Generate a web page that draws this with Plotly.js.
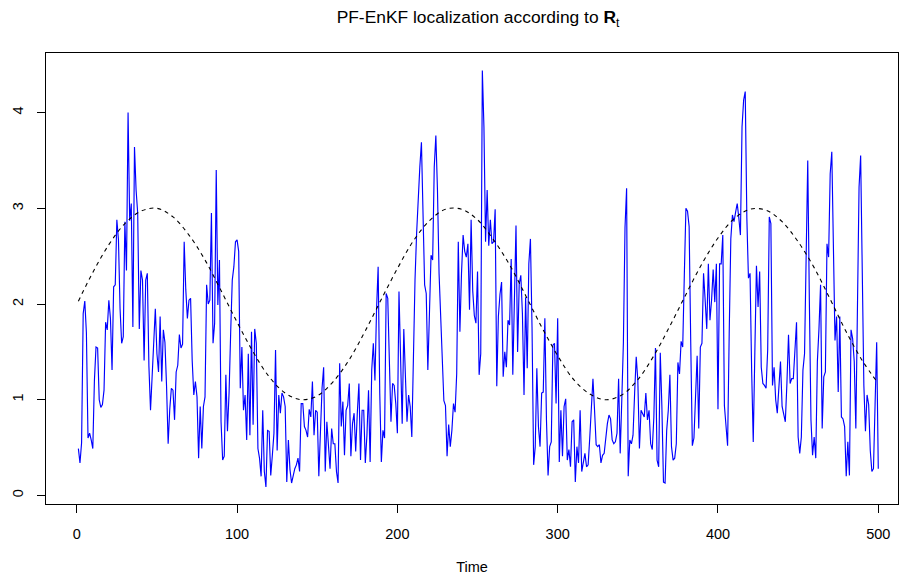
<!DOCTYPE html>
<html>
<head>
<meta charset="utf-8">
<script src="https://cdn.plot.ly/plotly-3.0.1.min.js"></script>
<style>
  html, body { margin: 0; padding: 0; background: #fff; overflow: hidden; }
  #chart { width: 899px; height: 576px; }
</style>
</head>
<body>
<div id="chart"></div>
<script>
// Blue series: PF-EnKF localization values, time steps 1..500
const estimateValues = [
  0.49, 0.34, 0.55, 1.9, 2.03, 1.7, 0.6, 0.65, 0.58, 0.49,
  1.2, 1.55, 1.54, 1.0, 0.92, 0.95, 1.1, 1.81, 1.73, 2.04,
  1.85, 1.31, 2.18, 2.2, 2.88, 2.67, 1.95, 1.59, 1.66, 2.86,
  2.35, 4.0, 2.87, 3.05, 1.76, 3.64, 3.19, 2.95, 1.74, 2.35,
  2.25, 1.41, 2.25, 2.32, 1.35, 0.89, 1.24, 1.6, 1.95, 1.48,
  1.29, 1.87, 1.19, 1.73, 1.6, 1.14, 0.54, 0.9, 1.12, 1.1,
  0.79, 1.29, 1.36, 1.68, 1.54, 1.58, 2.65, 2.15, 1.85, 2.04,
  2.06, 1.41, 1.05, 1.19, 1.03, 0.39, 0.93, 0.49, 0.93, 1.03,
  2.2, 2.0, 2.04, 2.95, 1.59, 1.8, 3.4, 1.99, 2.46, 0.77,
  0.37, 0.41, 1.26, 0.67, 1.07, 1.7, 2.25, 2.39, 2.65, 2.67,
  2.55, 1.12, 1.55, 0.89, 1.05, 0.58, 1.48, 0.63, 1.71, 0.74,
  1.74, 1.59, 0.49, 0.39, 0.2, 0.89, 0.25, 0.09, 0.68, 0.67,
  0.21, 0.42, 0.65, 1.52, 0.47, 1.05, 0.86, 1.07, 1.03, 0.93,
  0.14, 0.58, 0.27, 0.13, 0.21, 0.28, 0.32, 0.39, 0.25, 0.96,
  0.96, 0.72, 0.68, 0.61, 0.9, 0.82, 1.19, 0.63, 0.89, 0.87,
  0.2, 0.67, 1.12, 1.34, 0.25, 0.77, 0.48, 0.28, 0.7, 0.54,
  0.54, 0.25, 0.13, 1.38, 0.72, 0.98, 0.42, 0.89, 0.94, 1.17,
  0.41, 0.75, 0.86, 0.46, 0.86, 1.17, 0.37, 0.89, 0.89, 0.34,
  0.63, 1.1, 0.35, 1.31, 1.59, 1.2, 1.94, 2.39, 1.07, 0.35,
  0.68, 0.6, 2.11, 2.06, 1.41, 0.77, 1.17, 1.15, 0.96, 0.65,
  2.13, 1.38, 0.75, 1.74, 1.29, 0.77, 1.05, 0.93, 0.61, 1.48,
  2.25, 2.74, 3.19, 3.43, 3.69, 2.98, 2.2, 2.11, 1.31, 1.9,
  2.51, 2.46, 3.43, 3.76, 3.19, 2.32, 1.83, 1.34, 0.99, 0.94,
  0.41, 0.74, 0.51, 0.68, 0.96, 0.87, 1.27, 2.65, 1.71, 2.32,
  2.72, 2.55, 2.49, 2.63, 1.94, 2.88, 2.14, 1.88, 1.8, 2.34,
  1.26, 1.48, 4.44, 3.85, 2.65, 3.19, 2.61, 2.88, 2.63, 2.65,
  2.99, 1.14, 1.87, 2.1, 2.23, 1.24, 1.5, 1.34, 1.83, 1.78,
  2.47, 1.26, 2.25, 2.82, 1.5, 2.21, 2.3, 1.9, 1.05, 2.07,
  1.33, 2.42, 2.68, 1.76, 0.32, 0.51, 1.33, 0.72, 0.51, 1.07,
  1.08, 1.85, 0.79, 0.21, 0.51, 0.56, 1.57, 1.59, 0.96, 1.85,
  0.35, 0.89, 0.41, 0.93, 1.01, 0.37, 0.48, 0.3, 0.77, 0.79,
  0.14, 0.51, 0.34, 0.89, 0.25, 0.37, 0.44, 0.3, 0.32, 0.6,
  0.86, 1.22, 0.89, 0.53, 0.51, 0.53, 0.34, 0.42, 0.44, 0.6,
  0.75, 0.84, 0.8, 0.58, 0.54, 0.56, 0.65, 1.22, 0.44, 1.0,
  1.6, 2.8, 3.21, 0.2, 0.58, 0.54, 0.63, 1.07, 1.45, 1.2,
  0.49, 0.89, 0.86, 0.82, 1.07, 0.79, 0.89, 0.54, 0.48, 0.82,
  1.54, 0.37, 0.3, 1.49, 0.93, 0.14, 0.13, 0.68, 0.89, 1.26,
  0.51, 0.37, 0.39, 0.54, 1.39, 1.27, 1.61, 1.55, 2.3, 3.0,
  2.97, 2.81, 1.6, 0.52, 0.6, 1.07, 1.46, 0.7, 1.55, 1.59,
  2.32, 2.04, 1.74, 2.42, 1.83, 2.04, 2.36, 2.02, 2.42, 0.9,
  2.42, 2.42, 2.72, 0.94, 0.72, 0.52, 1.69, 2.68, 2.93, 2.86,
  2.96, 3.05, 2.9, 2.72, 3.85, 4.13, 4.22, 2.9, 2.27, 2.32,
  1.3, 0.56, 1.5, 2.4, 1.97, 2.34, 1.34, 1.17, 1.15, 1.12,
  1.52, 2.91, 2.84, 1.15, 1.34, 1.0, 0.86, 1.15, 1.4, 0.93,
  0.86, 0.77, 1.17, 1.68, 1.17, 1.22, 1.22, 1.47, 1.81, 0.61,
  0.44, 0.61, 1.31, 1.48, 2.46, 3.5, 2.04, 0.79, 0.42, 0.61,
  0.39, 1.4, 1.74, 2.2, 0.7, 1.24, 1.29, 2.63, 2.49, 3.36,
  3.59, 2.7, 1.62, 1.87, 1.08, 1.87, 0.82, 0.8, 0.72, 0.2,
  0.56, 0.21, 1.73, 1.64, 1.4, 0.7, 2.11, 3.22, 3.55, 2.11,
  1.15, 0.67, 1.05, 0.95, 0.47, 0.25, 0.28, 0.95, 1.6, 0.28
];
const timeSteps = estimateValues.map((_, i) => i + 1);

// Dashed reference curve at these time points
const refTimes = [1, 10, 20, 30, 40, 50, 60, 70, 80, 90, 100, 110, 120, 130, 140, 150,
  160, 170, 180, 190, 200, 210, 220, 230, 240, 250, 260, 270, 280, 290, 300,
  310, 320, 330, 340, 350, 360, 370, 380, 390, 400, 410, 420, 430, 440, 450,
  460, 470, 480, 490, 500];
const refValues = [2.03, 2.33, 2.62, 2.84, 2.97, 3.0, 2.91, 2.72, 2.46, 2.14, 1.81, 1.5,
  1.24, 1.07, 1.0, 1.04, 1.19, 1.42, 1.72, 2.05, 2.37, 2.66, 2.87, 2.99, 2.99, 2.88,
  2.67, 2.41, 2.09, 1.76, 1.46, 1.21, 1.06, 1.0, 1.05, 1.21, 1.46, 1.77, 2.1, 2.42,
  2.69, 2.89, 2.99, 2.98, 2.86, 2.65, 2.38, 2.05, 1.71, 1.41, 1.17];

const xTicks = [0, 100, 200, 300, 400, 500];
const yTicks = [0, 1, 2, 3, 4];

const FONT = 'Liberation Sans, Arial, Helvetica, sans-serif';

const traces = [
  {
    x: timeSteps, y: estimateValues, type: 'scatter', mode: 'lines',
    line: { color: '#0000ff', width: 1.15 }, hoverinfo: 'skip'
  },
  {
    x: refTimes, y: refValues, type: 'scatter', mode: 'lines',
    line: { color: '#000000', width: 1.1, dash: '4px,4px', shape: 'spline', smoothing: 1 },
    hoverinfo: 'skip'
  }
];

const axisCommon = {
  showgrid: false, zeroline: false,
  showline: true, mirror: true, linecolor: '#000', linewidth: 1,
  ticks: 'outside', ticklen: 8, tickwidth: 1, tickcolor: '#000',
  tickfont: { family: FONT, size: 14.5, color: '#000' }
};

const layout = {
  width: 899, height: 576,
  margin: { l: 46, r: 1, t: 53, b: 72, pad: 0 },
  paper_bgcolor: '#fff', plot_bgcolor: '#fff',
  showlegend: false,
  font: { family: FONT, color: '#000' },
  title: {
    text: 'PF-EnKF localization according to <b>R</b><sub>t</sub>',
    font: { family: FONT, size: 17.4, color: '#000' },
    xref: 'container', yref: 'container',
    x: 478 / 899, xanchor: 'center',
    y: 1 - 17 / 576, yanchor: 'middle'
  },
  xaxis: Object.assign({}, axisCommon, {
    range: [-19.2, 512.3],
    tickmode: 'array', tickvals: xTicks, ticktext: xTicks.map(String),
    ticklabelstandoff: 9,
    title: { text: 'Time', font: { family: FONT, size: 14.5, color: '#000' }, standoff: 20 }
  }),
  yaxis: Object.assign({}, axisCommon, {
    range: [-0.089, 4.622],
    tickmode: 'array', tickvals: yTicks, ticktext: yTicks.map(String),
    tickangle: -90,
    ticklabelstandoff: 8
  })
};

Plotly.newPlot('chart', traces, layout, { staticPlot: true, displayModeBar: false });
</script>
</body>
</html>
